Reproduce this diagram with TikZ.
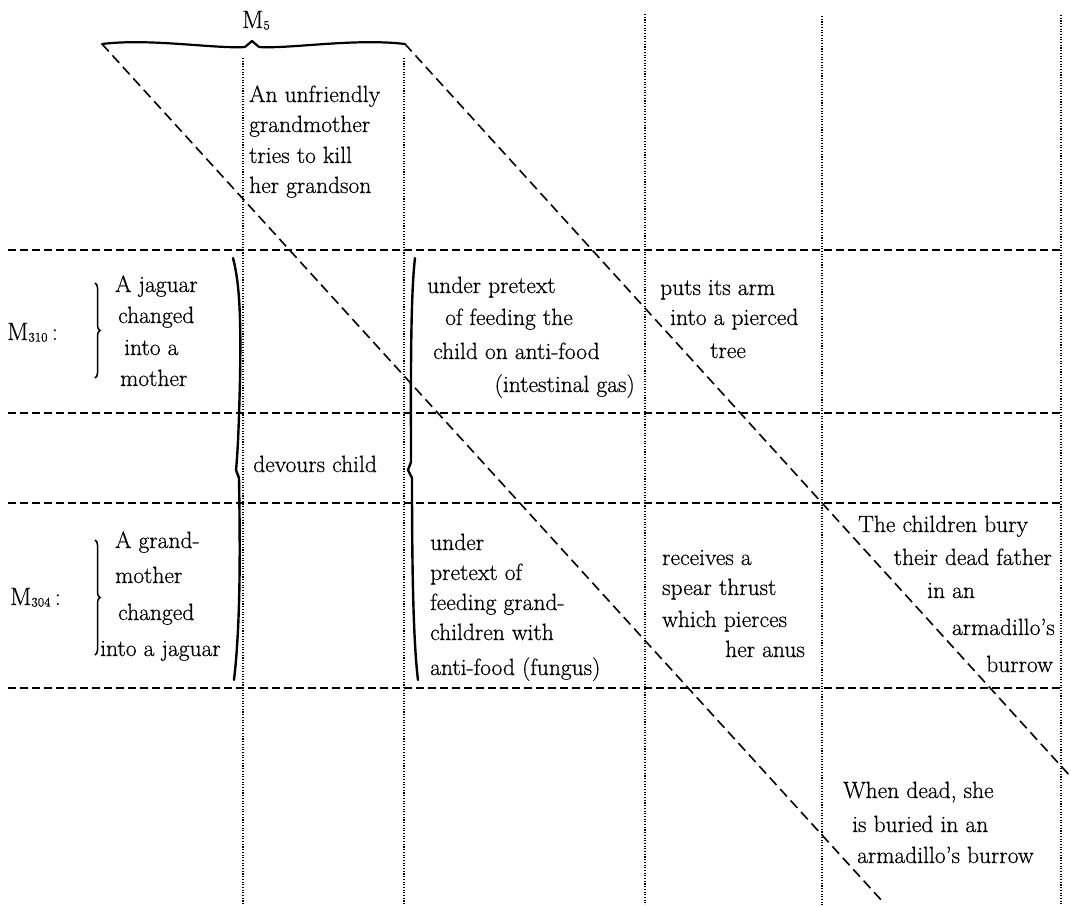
\documentclass[tikz,border=0pt]{standalone}
\usepackage{fontspec}
\newfontfamily\bodyfont{Latin Modern Roman}[FakeBold=0.5]
\usetikzlibrary{decorations.pathreplacing}
\begin{document}
\begin{tikzpicture}[x=1pt,y=-1pt,
  txt/.style={inner sep=0pt, font=\bodyfont\fontsize{23.5}{28}\selectfont},
  lab/.style={inner sep=0pt, font=\bodyfont\fontsize{25}{28}\selectfont},
  hline/.style={line width=1.8pt, dash pattern=on 8pt off 4pt},
  vline/.style={line width=1.4pt, dash pattern=on 1.1pt off 1.6pt},
  diag/.style={line width=1.6pt, dash pattern=on 10pt off 5.5pt},
  bigbrace/.style={line width=2.4pt, line cap=round, line join=round},
  topbrace/.style={line width=2.2pt, line cap=round, line join=round},
  smallbrace/.style={line width=1.5pt, decorate, decoration={brace, amplitude=5pt}}]
\newcommand{\subnum}[1]{\raisebox{-1.5pt}{\fontsize{13}{13}\selectfont #1}}
\fill[white] (0,0) rectangle (1071,905);
\useasboundingbox (0,0) rectangle (1071,905);

% horizontal dashed rules
\foreach \yy in {250,413,503,688} \draw[hline] (8,\yy) -- (1060,\yy);

% vertical dotted rules
\draw[vline] (243,58) -- (243,905);
\draw[vline] (404,58) -- (404,905);
\draw[vline] (645,14) -- (645,905);
\draw[vline] (822,16) -- (822,905);
\draw[vline] (1061,15) -- (1061,905);

% top brace and diagonals
\coordinate (bl) at (102,44);
\coordinate (br) at (405,44);
\coordinate (d1) at (883,902);
\coordinate (d2) at (1071,777);
\draw[topbrace] (bl) .. controls (150,38) and (215,49) .. (245,47) -- (252,41) -- (259,47) .. controls (290,49) and (355,38) .. (br);
\draw[diag] (bl) -- (d1);
\draw[diag] (br) -- (d2);
\node[lab, anchor=base] (m5) at (256,28) {M\subnum{5}};

% big braces
\draw[bigbrace] (233,258) .. controls (240,285) and (241,320) .. (240,380) .. controls (239,420) and (238,450) .. (236,470) -- (239,478) .. controls (240,540) and (241,620) .. (234,680);
\draw[bigbrace] (415,258) .. controls (410,300) and (411,400) .. (411,462) -- (408,470) -- (412,478) .. controls (412,560) and (413,640) .. (418,680);

% small braces
\draw[smallbrace] (95,283) -- (95,378);
\draw[smallbrace] (95,540) -- (95,655);

% labels
\node[lab, anchor=base west] (m310) at (7,340) {M\subnum{310}\,:};
\node[lab, anchor=base west] (m304) at (10,605) {M\subnum{304}\,:};

% M5 row
\node[txt, anchor=base west] (a1) at (249,102) {An unfriendly};
\node[txt, anchor=base west] (a2) at (249,132) {grandmother};
\node[txt, anchor=base west] (a3) at (249,163) {tries to kill};
\node[txt, anchor=base west] (a4) at (249,193) {her grandson};

% M310 row
\node[txt, anchor=base west] (b1) at (115,292) {A jaguar};
\node[txt, anchor=base west] (b2) at (118,323) {changed};
\node[txt, anchor=base west] (b3) at (124,355) {into a};
\node[txt, anchor=base west] (b4) at (120,386) {mother};

\node[txt, anchor=base west] (c1) at (427,293) {under pretext};
\node[txt, anchor=base west] (c2) at (445,325) {of feeding the};
\node[txt, anchor=base west] (c3) at (433,359) {child on anti-food};
\node[txt, anchor=base east] (c4) at (635,392) {(intestinal gas)};

\node[txt, anchor=base west] (e1) at (660,295) {puts its arm};
\node[txt, anchor=base west] (e2) at (670,325) {into a pierced};
\node[txt, anchor=base west] (e3) at (710,358) {tree};

% devours row
\node[txt, anchor=base west] (dv) at (253,472) {devours child};

% M304 row
\node[txt, anchor=base west] (f1) at (115,548) {A grand-};
\node[txt, anchor=base west] (f2) at (115,583) {mother};
\node[txt, anchor=base west] (f3) at (118,620) {changed};
\node[txt, anchor=base west] (f4) at (100,656) {into a jaguar};

\node[txt, anchor=base west] (g1) at (430,550) {under};
\node[txt, anchor=base west] (g2) at (430,580) {pretext of};
\node[txt, anchor=base west] (g3) at (430,610) {feeding grand-};
\node[txt, anchor=base west] (g4) at (430,640) {children with};
\node[txt, anchor=base west] (g5) at (430,675) {anti-food (fungus)};

\node[txt, anchor=base west] (h1) at (662,565) {receives a};
\node[txt, anchor=base west] (h2) at (662,595) {spear thrust};
\node[txt, anchor=base west] (h3) at (662,627) {which pierces};
\node[txt, anchor=base east] (h4) at (805,657) {her anus};

\node[txt, anchor=base west] (k1) at (858,532) {The children bury};
\node[txt, anchor=base east] (k2) at (1052,565) {their dead father};
\node[txt, anchor=base west] (k3) at (927,598) {in an};
\node[txt, anchor=base east] (k4) at (1055,635) {armadillo’s};
\node[txt, anchor=base east] (k5) at (1053,672) {burrow};

% bottom row
\node[txt, anchor=base west] (w1) at (843,798) {When dead, she};
\node[txt, anchor=base west] (w2) at (852,832) {is buried in an};
\node[txt, anchor=base west] (w3) at (857,863) {armadillo’s burrow};
\end{tikzpicture}
\end{document}
